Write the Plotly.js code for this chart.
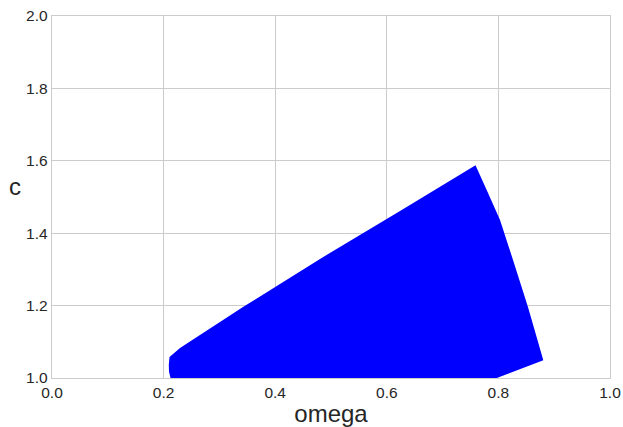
<!DOCTYPE html>
<html>
<head>
<meta charset="utf-8">
<script src="https://cdn.plot.ly/plotly-3.0.1.min.js"></script>
<style>html,body{margin:0;padding:0;background:#fff;}#chart{width:623px;height:427px;}</style>
</head>
<body>
<div id="chart"></div>
<script>
// Boundary of the filled region (omega, c), traced clockwise
var upperOmega = [0.2106, 0.2294, 0.3423, 0.4803, 0.6237, 0.7590];
var upperC     = [1.058, 1.083, 1.196, 1.329, 1.461, 1.588];
var rightOmega = [0.7590, 0.7814, 0.8029, 0.8262, 0.8530, 0.8805];
var rightC     = [1.588, 1.511, 1.4365, 1.326, 1.196, 1.049];
var bottomOmega = [0.8805, 0.797, 0.2124];
var bottomC     = [1.049, 1.000, 1.000];
var leftOmega = [0.2124, 0.2097, 0.2093, 0.2106];
var leftC     = [1.000, 1.017, 1.036, 1.058];

var xs = upperOmega.concat(rightOmega.slice(1), bottomOmega.slice(1), leftOmega.slice(1));
var ys = upperC.concat(rightC.slice(1), bottomC.slice(1), leftC.slice(1));

var trace = {
  x: xs, y: ys, type: 'scatter', mode: 'lines', fill: 'toself',
  line: {width: 0, color: '#0000ff'},
  fillcolor: '#0000ff', hoverinfo: 'skip'
};

var fontFam = 'Liberation Sans, Arial, sans-serif';
var axisCommon = {
  showgrid: true, gridcolor: '#cccccc', gridwidth: 1,
  showline: true, mirror: true, linecolor: '#cccccc', linewidth: 1.3,
  zeroline: false, ticks: '', tickfont: {family: fontFam, size: 15.5, color: '#262626'},
  dtick: 0.2, tickformat: '.1f'
};

var layout = {
  width: 623, height: 427,
  margin: {l: 52, r: 13, t: 16, b: 49},
  paper_bgcolor: '#ffffff', plot_bgcolor: '#ffffff',
  showlegend: false,
  xaxis: Object.assign({}, axisCommon, {
    range: [0, 1], tick0: 0,
    title: {text: 'omega', font: {family: fontFam, size: 24, color: '#262626'}, standoff: 6}
  }),
  yaxis: Object.assign({}, axisCommon, {range: [1, 2], tick0: 1}),
  annotations: [{
    text: 'c', xref: 'paper', yref: 'paper', x: 0, y: 0.53, xshift: -37,
    xanchor: 'center', yanchor: 'middle', showarrow: false,
    font: {family: fontFam, size: 24, color: '#262626'}
  }]
};

Plotly.newPlot('chart', [trace], layout, {displayModeBar: false, staticPlot: true});
</script>
</body>
</html>
